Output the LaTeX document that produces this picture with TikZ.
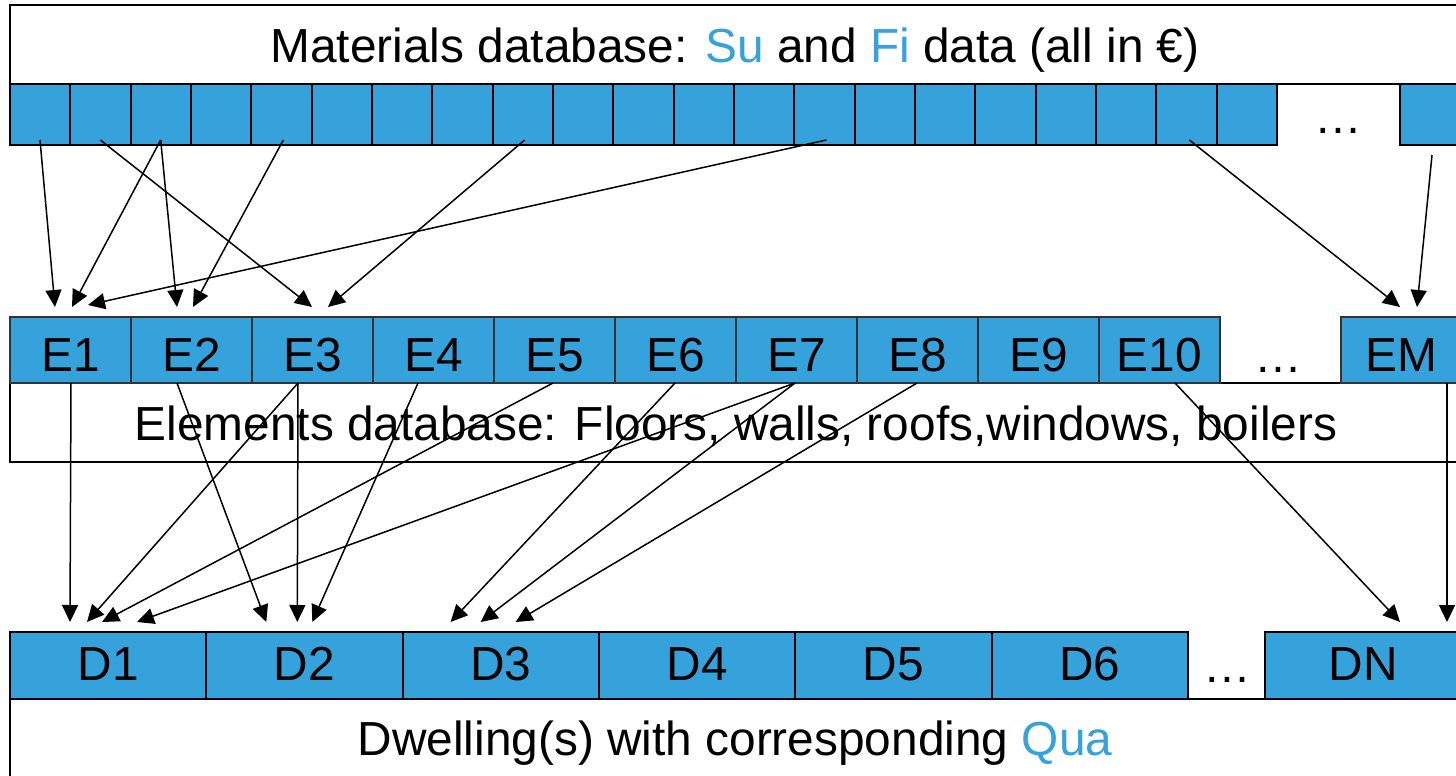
\documentclass[tikz,border=0pt]{standalone}
\usepackage{fontspec}
\setmainfont{Liberation Sans}
\usetikzlibrary{arrows.meta,calc}
\definecolor{cellblue}{RGB}{54,162,219}
\begin{document}
\begin{tikzpicture}[x=0.5pt,y=-0.5pt,
  every node/.style={font=\fontsize{23.9}{28}\selectfont},
  mcell/.style={draw=black,line width=1pt,fill=cellblue,minimum width=30.17pt,minimum height=30.5pt,inner sep=0pt,outer sep=0pt,anchor=north west},
  ecell/.style={draw=black!80,line width=0.7pt,fill=cellblue,minimum width=60.5pt,text height=27pt,text depth=6pt,inner sep=0pt,outer sep=0pt,anchor=north west},
  dcell/.style={draw=black,line width=1pt,fill=cellblue,minimum width=98.15pt,text height=24pt,text depth=9.5pt,inner sep=0pt,outer sep=0pt,anchor=north west},
  panel/.style={draw=black,line width=1pt,fill=white},
  link/.style={-{Triangle[length=8.5pt,width=8pt]},line width=0.75pt},
  dots/.style={anchor=base,inner sep=0pt},
  label/.style={anchor=base,inner sep=0pt},
]
\useasboundingbox (0,0) rectangle (1456,776);
\clip (0,0) rectangle (1456,776);

% panels
\draw[panel] (10,5) rectangle (1480,84);
\draw[panel] (10,383) rectangle (1480,462);
\draw[panel] (10,699) rectangle (1480,800);

% materials strip
\foreach \i in {1,...,21} \node (m\i) [mcell] at ({10+(\i-1)*60.333},84) {};
\node (mlast) [mcell] at (1400,84) {};
\node (mdots) [dots] at (1338,133) {…};
\node (mattext) [label] at (735,62) {Materials database: \textcolor{cellblue}{Su} and \textcolor{cellblue}{Fi} data (all in €)};

% elements strip
\foreach \i in {1,...,10} \node (e\i) [ecell] at ({10+(\i-1)*121},317) {E\i};
\node (em) [ecell] at (1341,317) {EM};
\node (edots) [dots] at (1278,372) {…};
\node (eltext) [label] at (736,440) {Elements database: Floors, walls, roofs,windows, boilers};

% dwellings strip
\foreach \i in {1,...,6} \node (d\i) [dcell] at ({10+(\i-1)*196.3},632) {D\i};
\node (dn) [dcell] at (1265,632) {DN};
\node (ddots) [dots] at (1227,682) {…};
\node (dwtext) [label] at (735,755) {Dwelling(s) with corresponding \textcolor{cellblue}{Qua}};

% materials -> elements
\draw[link] ($(m1.south west)+(30,-5)$) -- ($(e1.north west)+(45,-10)$);
\draw[link] ($(m2.south west)+(30,-5)$) -- ($(e3.north west)+(60,-10)$);
\draw[link] ($(m3.south west)+(30,-5)$) -- ($(e1.north west)+(62,-10)$);
\draw[link] ($(m3.south west)+(30,-5)$) -- ($(e2.north west)+(46,-10)$);
\draw[link] ($(m5.south west)+(32,-5)$) -- ($(e2.north west)+(62,-10)$);
\draw[link] ($(m9.south west)+(32,-5)$) -- ($(e3.north west)+(76,-10)$);
\draw[link] ($(m14.south west)+(32,-5)$) -- ($(e1.north west)+(78,-12)$);
\draw[link] ($(m20.south west)+(33,-5)$) -- ($(em.north west)+(59,-10)$);
\draw[link] ($(mlast.south west)+(32,10)$) -- ($(em.north west)+(76,-10)$);

% elements -> dwellings
\draw[link] ($(e1.south west)+(61,0)$) -- ($(d1.north west)+(60,-10)$);
\draw[link] ($(e2.south west)+(46,0)$) -- ($(d2.north west)+(60,-10)$);
\draw[link] ($(e3.south west)+(46,0)$) -- ($(d2.north west)+(91,-10)$);
\draw[link] ($(e3.south west)+(46,0)$) -- ($(d1.north west)+(77,-10)$);
\draw[link] ($(e4.south west)+(45,0)$) -- ($(d2.north west)+(106,-10)$);
\draw[link] ($(e5.south west)+(59,0)$) -- ($(d1.north west)+(92,-10)$);
\draw[link] ($(e6.south west)+(60,0)$) -- ($(d3.north west)+(48,-10)$);
\draw[link] ($(e7.south west)+(59,0)$) -- ($(d1.north west)+(127,-10)$);
\draw[link] ($(e7.south west)+(59,0)$) -- ($(d3.north west)+(78,-10)$);
\draw[link] ($(e8.south west)+(60,0)$) -- ($(d3.north west)+(113,-10)$);
\draw[link] ($(e10.south west)+(76,0)$) -- ($(dn.north west)+(135,-10)$);
\draw[link] ($(em.south west)+(106,0)$) -- ($(dn.north west)+(182,-10)$);
\end{tikzpicture}
\end{document}
